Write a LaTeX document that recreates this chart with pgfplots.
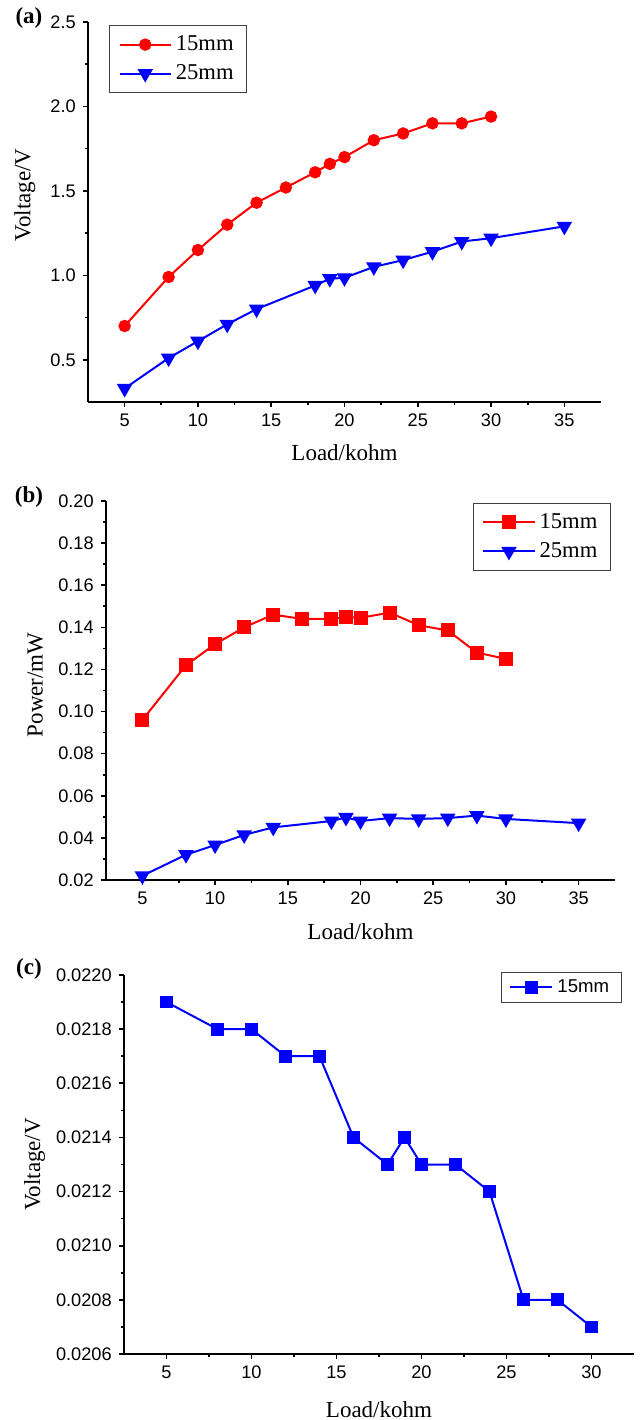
\documentclass[border=0pt]{standalone}
\usepackage{pgfplots}
\pgfplotsset{compat=1.18}
\usepackage{fontspec}
\setmainfont{Liberation Serif}
\newfontfamily\arial{Liberation Sans}
\definecolor{pred}{RGB}{255,0,0}
\definecolor{pblue}{RGB}{0,0,255}
\begin{document}
\begin{tikzpicture}
\useasboundingbox (0pt,0pt) rectangle (320pt,710pt);
\pgfplotsset{
  myaxis/.style={
    scale only axis,
    axis x line*=bottom, axis y line*=left,
    axis line style={line width=0.8pt, -},
    tick align=outside,
    major tick length=2.6pt, minor tick length=1.6pt,
    every tick/.style={black, line width=0.8pt},
    minor x tick num=1, minor y tick num=1,
    scaled ticks=false,
    ticklabel style={font=\arial\fontsize{9.1}{10}\selectfont},
    /pgf/number format/assume math mode=true,
    label style={font=\fontsize{11.5}{13}\selectfont},
    legend style={draw=black!75, line width=0.6pt, font=\fontsize{11.3}{13}\selectfont, inner xsep=4.5pt, inner ysep=3pt, row sep=1.5pt},
    legend cell align=left,
    legend image code/.code={\draw[mark repeat=2,mark phase=2] plot coordinates {(0cm,0cm) (0.45cm,0cm) (0.9cm,0cm)};},
    clip=false,
    every axis plot/.append style={line width=1pt},
  }
}
% ---------------- (a) ----------------
\begin{axis}[myaxis, at={(44pt,509pt)}, anchor=south west,
  width=256.5pt, height=190pt,
  xmin=2.5, xmax=37.5, ymin=0.25, ymax=2.5,
  xtick={5,10,15,20,25,30,35},
  ytick={0.5,1,1.5,2,2.5},
  yticklabel style={/pgf/number format/.cd, fixed, fixed zerofill, precision=1},
  xlabel={Load/kohm}, ylabel={Voltage/V},
  xlabel style={at={(axis description cs:0.5,-0.134)}, anchor=center},
  ylabel style={at={(axis description cs:-0.123,0.545)}, anchor=center, rotate=0},
  legend style={at={(axis description cs:0.041,0.992)}, anchor=north west},
]
\addplot[pred, mark=*, mark size=2.6pt, mark options={solid, fill=pred}] coordinates {
(5,0.70) (8,0.99) (10,1.15) (12,1.30) (14,1.43) (16,1.52) (18,1.61) (19,1.66) (20,1.70) (22,1.80) (24,1.84) (26,1.90) (28,1.90) (30,1.94)};
\addlegendentry{15mm}
\addplot[pblue, mark=triangle*, mark size=3.5pt, mark options={solid, fill=pblue, rotate=180}] coordinates {
(5,0.33) (8,0.51) (10,0.61) (12,0.71) (14,0.80) (18,0.94) (19,0.98) (20,0.985) (22,1.05) (24,1.09) (26,1.14) (28,1.20) (30,1.22) (35,1.29)};
\addlegendentry{25mm}
\end{axis}
% ---------------- (b) ----------------
\begin{axis}[myaxis, at={(53pt,270pt)}, anchor=south west,
  width=254.5pt, height=189.5pt,
  xmin=2.5, xmax=37.5, ymin=0.02, ymax=0.2,
  xtick={5,10,15,20,25,30,35},
  ytick={0.02,0.04,0.06,0.08,0.10,0.12,0.14,0.16,0.18,0.20},
  yticklabel style={/pgf/number format/.cd, fixed, fixed zerofill, precision=2},
  xlabel={Load/kohm}, ylabel={Power/mW},
  xlabel style={at={(axis description cs:0.5,-0.137)}, anchor=center},
  ylabel style={at={(axis description cs:-0.139,0.515)}, anchor=center, rotate=0},
  legend style={at={(axis description cs:0.992,0.995)}, anchor=north east},
]
\addplot[pred, mark=square*, mark size=3pt, mark options={solid, fill=pred}] coordinates {
(5,0.096) (8,0.122) (10,0.132) (12,0.140) (14,0.146) (16,0.144) (18,0.144) (19,0.145) (20,0.1445) (22,0.147) (24,0.141) (26,0.1385) (28,0.128) (30,0.125)};
\addlegendentry{15mm}
\addplot[pblue, mark=triangle*, mark size=3.5pt, mark options={solid, fill=pblue, rotate=180}] coordinates {
(5,0.022) (8,0.032) (10,0.0366) (12,0.0414) (14,0.045) (18,0.048) (19,0.0497) (20,0.048) (22,0.0494) (24,0.049) (26,0.0494) (28,0.0506) (30,0.049) (35,0.047)};
\addlegendentry{25mm}
\end{axis}
% ---------------- (c) ----------------
\begin{axis}[myaxis, at={(62pt,33pt)}, anchor=south west,
  width=255pt, height=189.5pt,
  xmin=2.5, xmax=32.5, ymin=0.0206, ymax=0.0220,
  xtick={5,10,15,20,25,30},
  ytick={0.0206,0.0208,0.0210,0.0212,0.0214,0.0216,0.0218,0.0220},
  yticklabel style={/pgf/number format/.cd, fixed, fixed zerofill, precision=4},
  xlabel={Load/kohm}, ylabel={Voltage/V},
  xlabel style={at={(axis description cs:0.5,-0.148)}, anchor=center},
  ylabel style={at={(axis description cs:-0.175,0.5)}, anchor=center, rotate=0},
  legend style={at={(axis description cs:0.976,1.008)}, anchor=north east, font=\arial\fontsize{9.3}{10}\selectfont, inner xsep=4pt, inner ysep=1.5pt},
  legend image code/.code={\draw[mark repeat=2,mark phase=2] plot coordinates {(0cm,0cm) (0.37cm,0cm) (0.74cm,0cm)};},
]
\addplot[pblue, mark=square*, mark size=2.7pt, mark options={solid, fill=pblue}] coordinates {
(5,0.0219) (8,0.0218) (10,0.0218) (12,0.0217) (14,0.0217) (16,0.0214) (18,0.0213) (19,0.0214) (20,0.0213) (22,0.0213) (24,0.0212) (26,0.0208) (28,0.0208) (30,0.0207)};
\addlegendentry{15mm}
\end{axis}
% panel letters
\node[font=\bfseries\fontsize{11.5}{13}\selectfont] at (14.5pt,701pt) {(a)};
\node[font=\bfseries\fontsize{11.5}{13}\selectfont] at (14.5pt,461.5pt) {(b)};
\node[font=\bfseries\fontsize{11.5}{13}\selectfont] at (14.5pt,225.5pt) {(c)};
\end{tikzpicture}
\end{document}
